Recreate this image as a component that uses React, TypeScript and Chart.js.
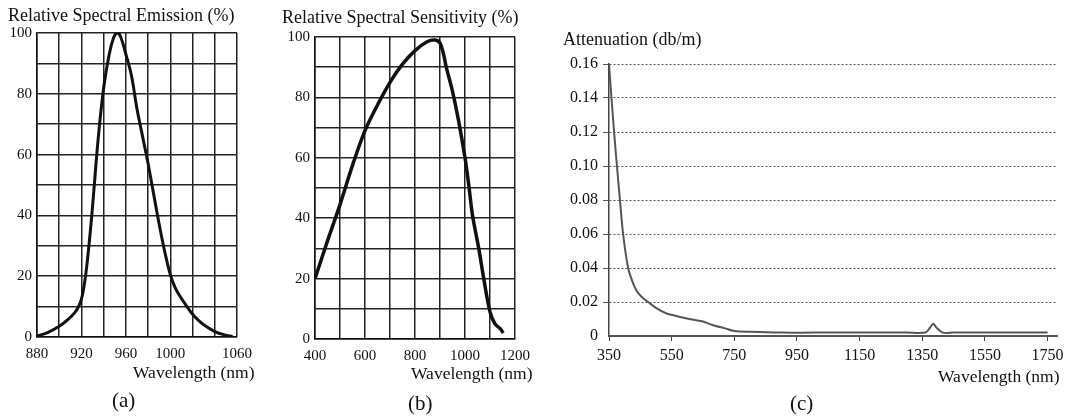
import React, { useEffect, useRef } from "react";
import { Chart, registerables } from "chart.js";

Chart.register(...registerables);

// ---------- data ----------
// (a) Relative spectral emission
const emissionWavelengths = [880, 890, 900, 908, 914, 918, 921, 924, 927, 930, 935, 940, 945, 949, 952, 955, 960, 965, 970, 975, 980, 985, 990, 995, 1000, 1004, 1008, 1015, 1020, 1025, 1030, 1040, 1050, 1056];
const emissionValues = [0.3, 1.5, 3.5, 5.8, 8, 10.5, 14, 21, 31, 43, 65, 82, 93, 98.5, 100, 99, 93, 86, 75, 66, 57, 47, 37, 28, 20.5, 16.5, 13.8, 10, 7.5, 5.6, 4, 1.8, 0.6, 0.2];
const emissionXLabels = [880, 920, 960, 1000, 1060];
const emissionYLabels = [0, 20, 40, 60, 80, 100];

// (b) Relative spectral sensitivity
const sensitivityWavelengths = [400, 450, 500, 550, 600, 650, 700, 750, 800, 850, 880, 900, 915, 925, 950, 975, 1000, 1015, 1030, 1055, 1075, 1100, 1120, 1140, 1153];
const sensitivityValues = [20, 32.5, 44.5, 57.5, 69, 77.5, 85, 91, 95.5, 98.5, 99, 98, 94, 90, 82, 72, 60, 51, 41, 30, 20, 9, 5, 3.5, 2];
const sensitivityXLabels = [400, 600, 800, 1000, 1200];
const sensitivityYLabels = [0, 20, 40, 60, 80, 100];

// (c) Attenuation
const attenuationWavelengths = [350, 362, 373, 385, 395, 411, 425, 440, 460, 475, 500, 530, 577, 620, 650, 680, 720, 750, 800, 900, 1000, 1100, 1200, 1300, 1360, 1375, 1385, 1395, 1415, 1450, 1550, 1650, 1750];
const attenuationValues = [0.16, 0.13, 0.105, 0.08, 0.06, 0.04, 0.032, 0.026, 0.022, 0.02, 0.0165, 0.0135, 0.0112, 0.0095, 0.0085, 0.0065, 0.0045, 0.003, 0.0025, 0.002, 0.002, 0.002, 0.002, 0.002, 0.002, 0.005, 0.0072, 0.005, 0.002, 0.002, 0.002, 0.002, 0.002];
const attenuationXTicks = [350, 550, 750, 950, 1150, 1350, 1550, 1750];

const FONT = "'Liberation Serif', 'Times New Roman', serif";

type PanelProps = {
  left: number;
  width: number;
  config: any;
};

function Panel({ left, width, config }: PanelProps) {
  const ref = useRef<HTMLCanvasElement | null>(null);
  useEffect(() => {
    if (!ref.current) return;
    const chart = new Chart(ref.current, config);
    return () => chart.destroy();
  }, []);
  return (
    <div style={{ position: "absolute", left, top: 0, width, height: 417 }}>
      <canvas ref={ref} width={width} height={417} style={{ display: "block", width, height: 417 }} />
    </div>
  );
}

function Label({ left, top, size, text }: { left: number; top: number; size: number; text: string }) {
  return (
    <div
      style={{
        position: "absolute",
        left,
        top,
        fontFamily: FONT,
        fontSize: size,
        lineHeight: 1,
        whiteSpace: "nowrap",
        color: "#111",
      }}
    >
      {text}
    </div>
  );
}

function gridChartConfig(opts: {
  xs: number[];
  ys: number[];
  xMin: number;
  xMax: number;
  xStep: number;
  xLabels: number[];
  yLabels: number[];
  yWidth: number;
  padTop: number;
  padRight: number;
  xHeight: number;
  lineWidth: number;
}) {
  return {
    type: "line",
    data: {
      datasets: [
        {
          data: opts.xs.map((x, i) => ({ x, y: opts.ys[i] })),
          borderColor: "#111",
          borderWidth: opts.lineWidth,
          pointRadius: 0,
          tension: 0.35,
          fill: false,
        },
      ],
    },
    options: {
      responsive: false,
      animation: false,
      devicePixelRatio: 1,
      layout: { padding: { top: opts.padTop, right: opts.padRight, left: 0, bottom: 0 } },
      plugins: { legend: { display: false }, title: { display: false }, tooltip: { enabled: false } },
      scales: {
        x: {
          type: "linear",
          min: opts.xMin,
          max: opts.xMax,
          afterFit: (s: any) => {
            s.height = opts.xHeight;
          },
          ticks: {
            stepSize: opts.xStep,
            autoSkip: false,
            maxRotation: 0,
            padding: 8,
            color: "#111",
            font: { family: FONT, size: 15 },
            callback: (v: any) => (opts.xLabels.includes(Number(v)) ? String(v) : ""),
          },
          grid: { color: "#222", lineWidth: 1.5, drawTicks: false },
          border: { display: true, color: "#111", width: 1.5 },
        },
        y: {
          type: "linear",
          min: 0,
          max: 100,
          afterFit: (s: any) => {
            s.width = opts.yWidth;
          },
          ticks: {
            stepSize: 10,
            autoSkip: false,
            padding: 5,
            color: "#111",
            font: { family: FONT, size: 15 },
            callback: (v: any) => (opts.yLabels.includes(Number(v)) ? String(v) : ""),
          },
          grid: { color: "#222", lineWidth: 1.5, drawTicks: false },
          border: { display: true, color: "#111", width: 1.5 },
        },
      },
    },
  };
}

const configA = gridChartConfig({
  xs: emissionWavelengths,
  ys: emissionValues,
  xMin: 880,
  xMax: 1060,
  xStep: 20,
  xLabels: emissionXLabels,
  yLabels: emissionYLabels,
  yWidth: 37,
  padTop: 33,
  padRight: 21,
  xHeight: 80,
  lineWidth: 3,
});

const configB = gridChartConfig({
  xs: sensitivityWavelengths,
  ys: sensitivityValues,
  xMin: 400,
  xMax: 1200,
  xStep: 100,
  xLabels: sensitivityXLabels,
  yLabels: sensitivityYLabels,
  yWidth: 37,
  padTop: 37,
  padRight: 19,
  xHeight: 78,
  lineWidth: 3.5,
});

const configC = {
  type: "line",
  data: {
    datasets: [
      {
        data: attenuationWavelengths.map((x, i) => ({ x, y: attenuationValues[i] })),
        borderColor: "#555",
        borderWidth: 2,
        pointRadius: 0,
        tension: 0.3,
        fill: false,
      },
    ],
  },
  options: {
    responsive: false,
    animation: false,
    devicePixelRatio: 1,
    layout: { padding: { top: 64, right: 15, left: 0, bottom: 0 } },
    plugins: { legend: { display: false }, title: { display: false }, tooltip: { enabled: false } },
    scales: {
      x: {
        type: "linear",
        min: 350,
        max: 1780,
        afterFit: (s: any) => {
          s.height = 81;
        },
        afterBuildTicks: (s: any) => {
          s.ticks = attenuationXTicks.map((value) => ({ value }));
        },
        ticks: {
          autoSkip: false,
          maxRotation: 0,
          padding: 5,
          color: "#111",
          font: { family: FONT, size: 16 },
          callback: (v: any) => String(v),
        },
        grid: { drawOnChartArea: false, drawTicks: true, tickLength: 5, color: "#444", lineWidth: 1 },
        border: { display: true, color: "#555", width: 2 },
      },
      y: {
        type: "linear",
        min: 0,
        max: 0.16,
        afterFit: (s: any) => {
          s.width = 54;
        },
        ticks: {
          stepSize: 0.02,
          autoSkip: false,
          padding: 5,
          color: "#111",
          font: { family: FONT, size: 16 },
          callback: (v: any) => (Math.abs(Number(v)) < 1e-9 ? "0" : Number(v).toFixed(2)),
        },
        grid: {
          drawTicks: true,
          tickLength: 6,
          color: (ctx: any) => (ctx.tick && Math.abs(ctx.tick.value) < 1e-9 ? "rgba(0,0,0,0)" : "#555"),
          lineWidth: 1,
        },
        border: { display: true, color: "#444", width: 1.5, dash: [2, 2] },
      },
    },
  },
};

export default function App() {
  return (
    <div
      style={{
        position: "absolute",
        left: 0,
        top: 0,
        width: 1072,
        height: 417,
        background: "#fff",
        overflow: "hidden",
      }}
    >
      <Panel left={0} width={260} config={configA} />
      <Panel left={278} width={260} config={configB} />
      <Panel left={555} width={517} config={configC} />

      <Label left={8} top={6} size={18} text="Relative Spectral Emission (%)" />
      <Label left={282} top={8} size={18} text="Relative Spectral Sensitivity (%)" />
      <Label left={563} top={30} size={18} text="Attenuation (db/m)" />

      <Label left={133} top={364} size={17.5} text="Wavelength (nm)" />
      <Label left={411} top={365} size={17.5} text="Wavelength (nm)" />
      <Label left={938} top={368} size={17.5} text="Wavelength (nm)" />

      <Label left={112} top={390} size={21} text="(a)" />
      <Label left={408} top={393} size={21} text="(b)" />
      <Label left={790} top={393} size={21} text="(c)" />
    </div>
  );
}
